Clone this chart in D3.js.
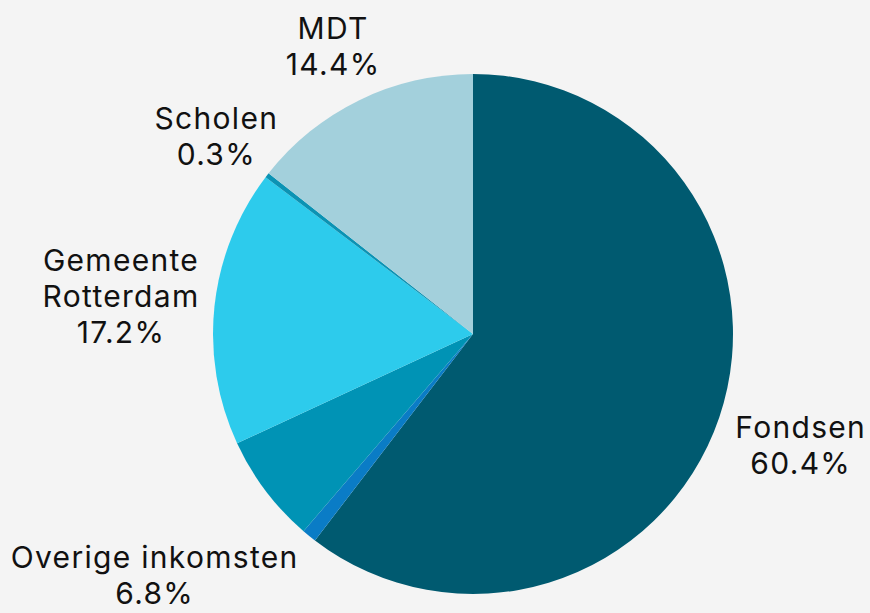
<!DOCTYPE html>
<html>
<head>
<meta charset="utf-8">
<script src="https://cdn.jsdelivr.net/npm/d3@7"></script>
<style>
  html, body { margin: 0; padding: 0; background: #f4f4f4; }
  svg { display: block; }
</style>
</head>
<body>
<div id="chart"></div>
<script>
// Data (clockwise from 12 o'clock)
const categories = ["Fondsen", "Sponsoring", "Overige inkomsten", "Gemeente Rotterdam", "Scholen", "MDT"];
const values = [60.4, 0.9, 6.8, 17.2, 0.3, 14.4];
const showLabel = [true, false, true, true, true, true];
const colors = ["#005a70", "#0a7cc6", "#0093b5", "#2dcbec", "#0b93b4", "#a3d0dc"];

const width = 870, height = 613;
const cx = 473, cy = 334, radius = 260;
const gap = 14;
const fontSize = 30;
const lineHeight = 36;

const data = categories.map((c, i) => ({ name: c, value: values[i], show: showLabel[i], color: colors[i] }));

const svg = d3.select("#chart")
    .append("svg")
    .attr("width", width)
    .attr("height", height);

svg.append("rect")
    .attr("width", width)
    .attr("height", height)
    .attr("fill", "#f4f4f4");

const g = svg.append("g")
    .attr("transform", "translate(" + cx + "," + cy + ")");

const pie = d3.pie()
    .value(d => d.value)
    .sort(null);

const arc = d3.arc()
    .innerRadius(0)
    .outerRadius(radius);

const arcs = pie(data);

// Slices
g.selectAll("path")
    .data(arcs)
    .enter()
    .append("path")
    .attr("d", arc)
    .attr("fill", d => d.data.color);

// Labels: place each text block just outside the circle along its mid angle
const labels = g.selectAll(".label")
    .data(arcs.filter(d => d.data.show))
    .enter()
    .append("text")
    .attr("class", "label")
    .attr("text-anchor", "middle")
    .attr("font-family", "Inter, 'Noto Sans', sans-serif")
    .attr("font-size", fontSize + "px")
    .attr("letter-spacing", "1.3px")
    .attr("fill", "#111");

labels.each(function(d) {
    const t = d3.select(this);
    // keep "Overige inkomsten" on one line
    const textLines = d.data.name === "Overige inkomsten" ? [d.data.name] : d.data.name.split(" ");
    const all = textLines.concat([d.data.value.toFixed(1) + "%"]);
    const widths = [];
    all.forEach((s, i) => {
        const ts = t.append("tspan")
            .attr("x", 0)
            .attr("dy", i === 0 ? 0 : lineHeight)
            .text(s);
        widths.push(ts.node().getComputedTextLength());
    });
    // line boxes relative to the block centre (cap height ~0.73em)
    const cap = fontSize * 0.73;
    const blockH = (all.length - 1) * lineHeight + cap;
    const boxes = widths.map((w, i) => ({
        x0: -w / 2, x1: w / 2,
        y0: -blockH / 2 + i * lineHeight, y1: -blockH / 2 + i * lineHeight + cap
    }));
    const mid = (d.startAngle + d.endAngle) / 2;
    const ux = Math.sin(mid), uy = -Math.cos(mid);
    // step outwards until every line clears the circle
    let dist = radius;
    for (; dist < radius + 400; dist += 1) {
        const bx = ux * dist, by = uy * dist;
        const minD = d3.min(boxes, b => {
            const nx = Math.max(bx + b.x0, Math.min(0, bx + b.x1));
            const ny = Math.max(by + b.y0, Math.min(0, by + b.y1));
            return Math.hypot(nx, ny);
        });
        if (minD >= radius + gap) break;
    }
    const bx = ux * dist, by = uy * dist;
    // first baseline sits cap height below the block top
    t.attr("transform", "translate(" + bx + "," + (by - blockH / 2 + cap) + ")");
});
</script>
</body>
</html>
